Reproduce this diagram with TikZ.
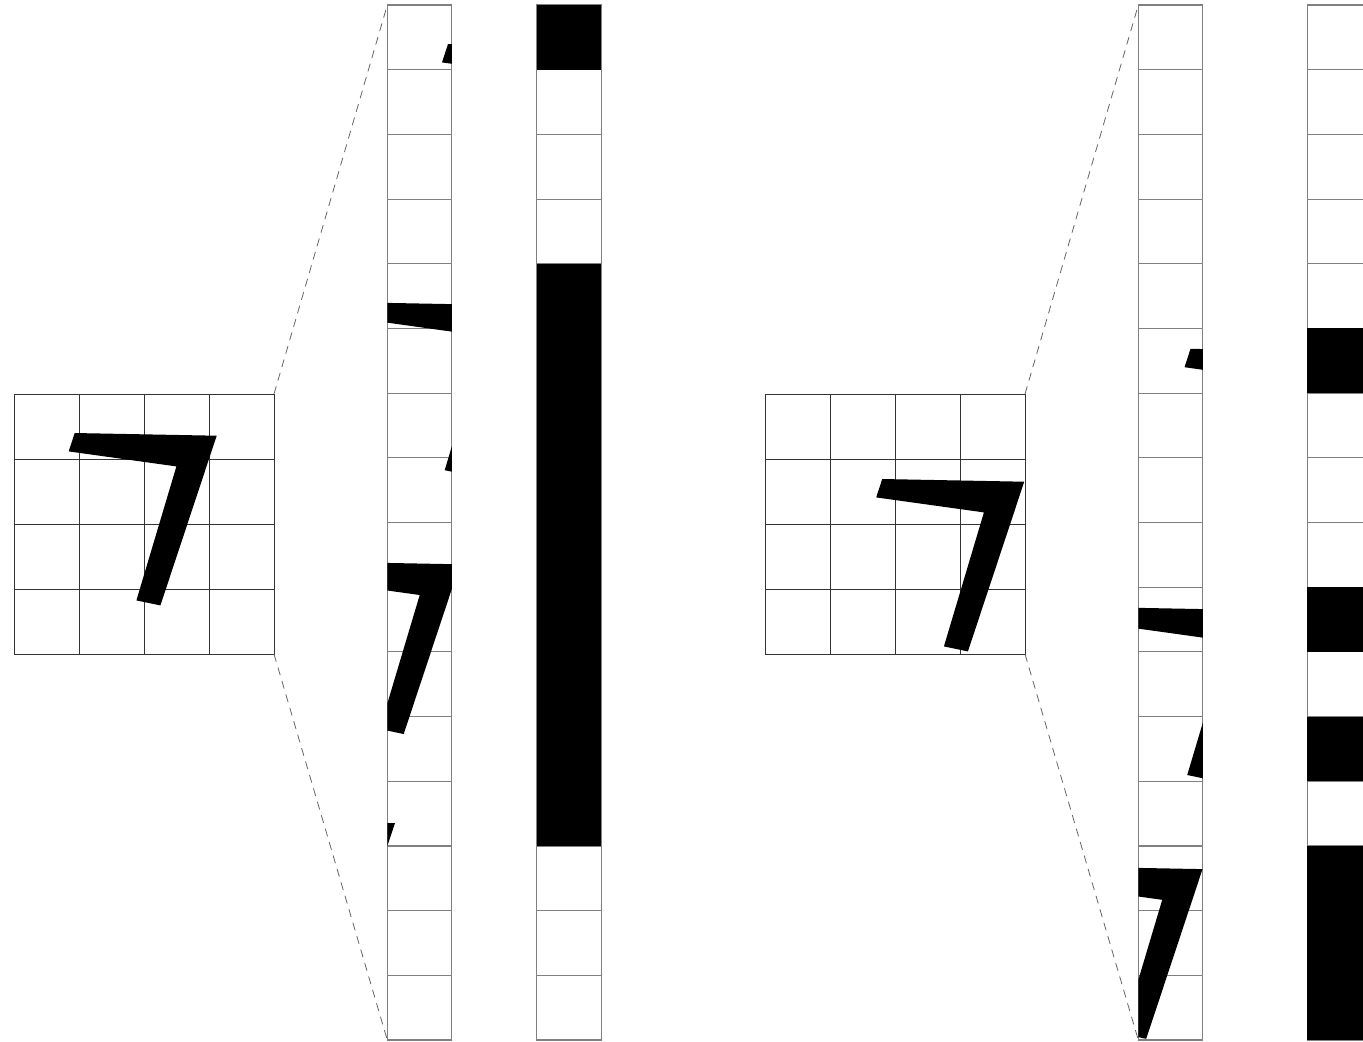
\documentclass[tikz,border=0pt]{standalone}
\newcommand\sevenpath{(60.7,39) -- (202.7,41.7) -- (146.4,211.4) -- (122.4,206.4) -- (162.4,72.4) -- (54.7,57.4) -- cycle}
% #1 strip left x, #2 / #3 extra shift of the seven inside its grid
\newcommand\stripink[3]{%
  \foreach \c in {0,1,2,3} {
    \begin{scope}
      \clip (#1, 5+258.8*\c) rectangle (#1+64.5, 5+258.8*\c+258.8);
      \fill[ink, shift={(#1-65*\c+#2, 5+258.8*\c+#3)}] \sevenpath;
    \end{scope}
  }}
\newcommand\striplines[2]{% #1 left x, #2 width
  \foreach \k in {1,...,15} {
    \draw[stripline] (#1, 5+64.6875*\k) -- (#1+#2, 5+64.6875*\k);
  }}
\newcommand\gridlines[2]{% origin
  \foreach \i in {1,2,3} {
    \draw[gridline] (#1+65*\i,#2) -- (#1+65*\i,#2+260);
    \draw[gridline] (#1,#2+65*\i) -- (#1+260,#2+65*\i);
  }}
\begin{document}
\begin{tikzpicture}[x=0.5pt,y=-0.5pt,
  ink/.style={fill=black},
  gridline/.style={draw=black!80, line width=0.5pt},
  gridbox/.style={anchor=north west, minimum width=130pt, minimum height=130pt, inner sep=0pt, outer sep=0pt, draw=black!80, line width=0.5pt},
  stripline/.style={draw=black!50, line width=0.55pt},
  stripbox/.style={anchor=north west, minimum width=32.25pt, minimum height=517.5pt, inner sep=0pt, outer sep=0pt, draw=black!50, line width=0.55pt},
  zoomline/.style={draw=black!60, line width=0.4pt, dash pattern=on 4pt off 3pt}]
\useasboundingbox (0,0) rectangle (1363,1041);
\clip (0,0) rectangle (1363,1041);
\fill[white] (0,0) rectangle (1363,1041);

% ---------- left half ----------
\node[gridbox] (g1) at (14,394) {};
\gridlines{14}{394}
\fill[ink, shift={(14,394)}] \sevenpath;

\node[stripbox] (s1) at (387.3,5) {};
\striplines{387.3}{64.5}
\stripink{387.3}{0}{0}

\node[stripbox] (b1) at (536.7,5) {};
\striplines{536.7}{64.3}
\foreach \k in {0,4,5,6,7,8,9,10,11,12} {
  \fill[ink] (536.7, 5+64.6875*\k) rectangle (601, 5+64.6875*\k+64.6875);
}

\draw[zoomline] (g1.north east) -- (s1.north west);
\draw[zoomline] (g1.south east) -- (s1.south west);

% ---------- right half ----------
\node[gridbox] (g2) at (765,394) {};
\gridlines{765}{394}
\fill[ink, shift={(821.5,440)}] \sevenpath;

\node[stripbox] (s2) at (1138.3,5) {};
\striplines{1138.3}{64.5}
\stripink{1138.3}{56.5}{46}

\node[stripbox] (b2) at (1307.3,5) {};
\striplines{1307.3}{64.3}
\foreach \k in {5,9,11,13,14,15} {
  \fill[ink] (1307.3, 5+64.6875*\k) rectangle (1371.6, 5+64.6875*\k+64.6875);
}

\draw[zoomline] (g2.north east) -- (s2.north west);
\draw[zoomline] (g2.south east) -- (s2.south west);
\end{tikzpicture}
\end{document}
